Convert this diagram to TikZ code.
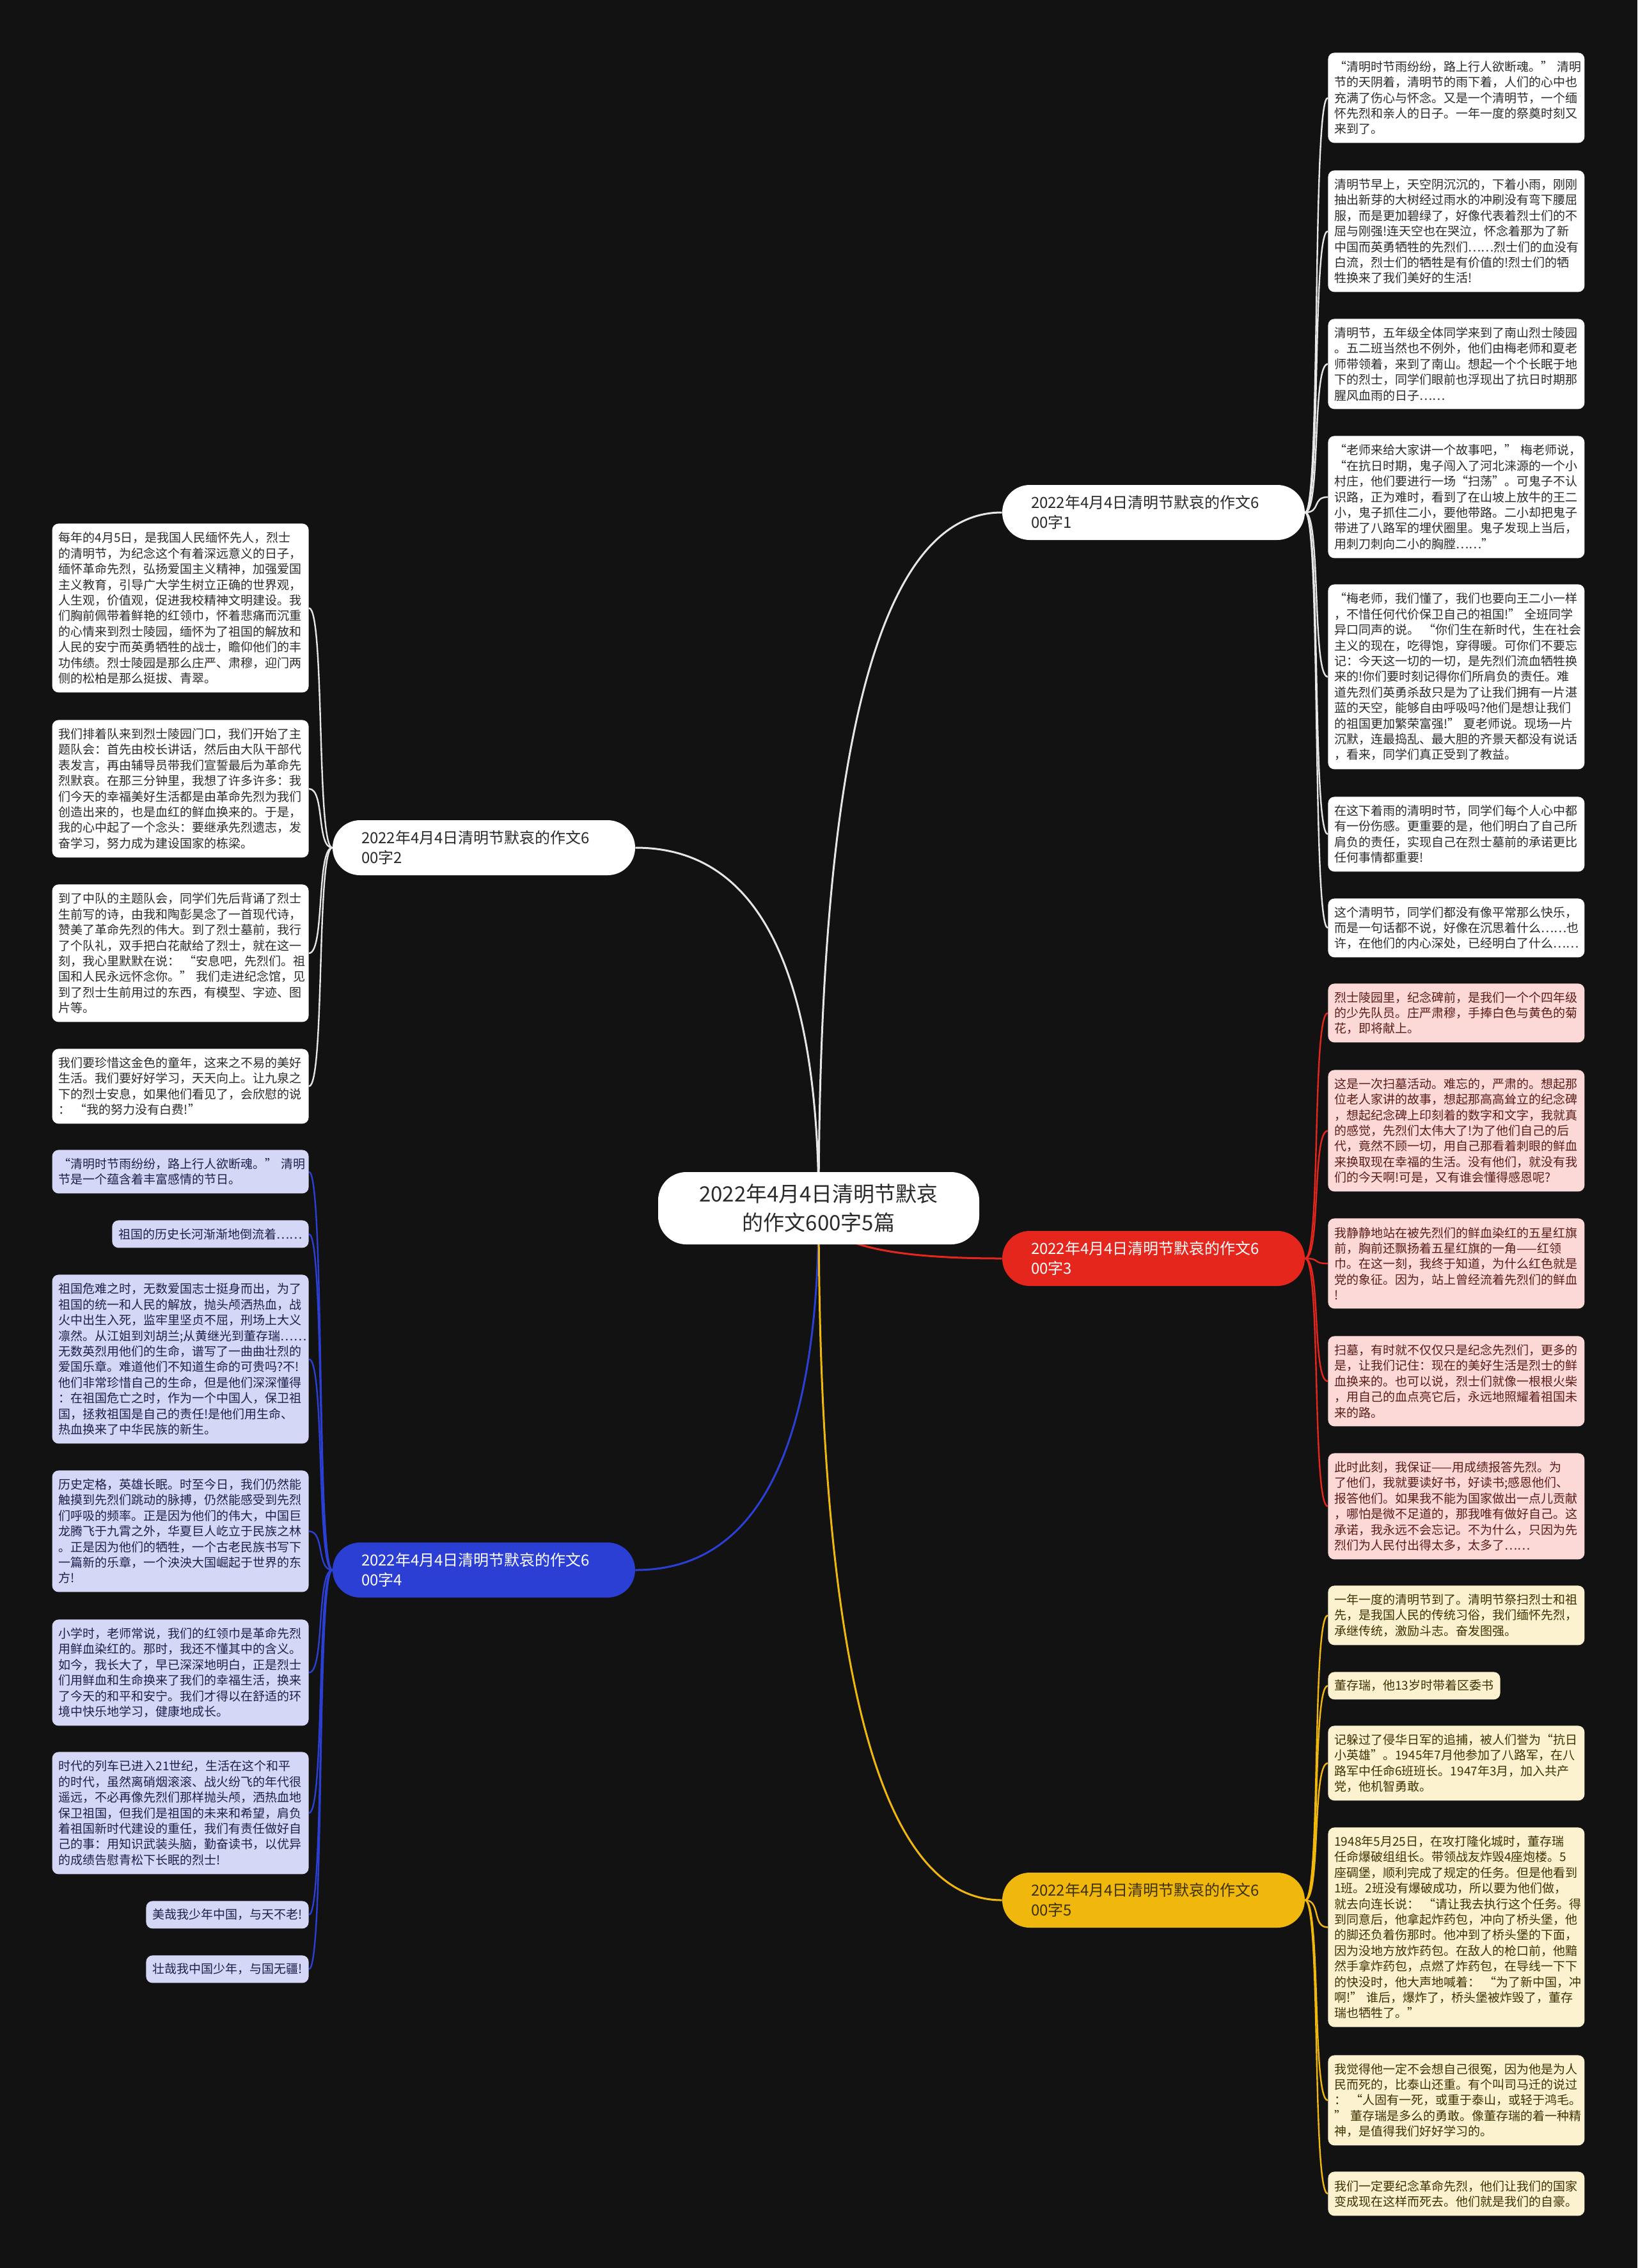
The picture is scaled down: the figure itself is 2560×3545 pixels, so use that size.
\documentclass[tikz,border=0pt]{standalone}
\usepackage{fontspec}
\setmainfont{Noto Sans CJK SC}
\usetikzlibrary{backgrounds}
\pgfdeclarelayer{bgl}
\pgfdeclarelayer{conn}
\pgfsetlayers{bgl,conn,main}
\definecolor{bgc}{HTML}{121212}
\definecolor{redB}{HTML}{E5261D}
\definecolor{blueB}{HTML}{2B3FD5}
\definecolor{yelB}{HTML}{F0B70C}
\definecolor{lineW}{HTML}{E6E6E6}
\definecolor{pinkL}{HTML}{FCD8D6}
\definecolor{lavL}{HTML}{D5D7F7}
\definecolor{creamL}{HTML}{FDF2D0}
\definecolor{txtW}{HTML}{2A2A2A}
\definecolor{txtR}{HTML}{5A1D18}
\definecolor{txtB}{HTML}{1D1F4A}
\definecolor{txtY}{HTML}{3D3100}
\begin{document}
\begin{tikzpicture}[x=0.5pt,y=-0.5pt,
  leafbase/.style={rounded corners=5pt, inner xsep=5pt, inner ysep=0pt, align=left,
    font=\fontsize{9.5pt}{12.2pt}\selectfont},
  leafR/.style={leafbase, anchor=north west, text width=190.5pt},
  leafL/.style={leafbase, anchor=north east, text width=190.5pt},
  shortR/.style={leafbase, anchor=north west, minimum height=21.5pt},
  shortL/.style={leafbase, anchor=north east, minimum height=21.5pt},
  cW/.style={fill=white, text=txtW},
  cR/.style={fill=pinkL, text=txtR},
  cB/.style={fill=lavL, text=txtB},
  cY/.style={fill=creamL, text=txtY},
  branchnode/.style={rounded corners=21.5pt, minimum width=236.5pt, minimum height=43pt,
    text width=191.5pt, inner xsep=22.5pt, inner ysep=0pt, align=left,
    font=\fontsize{12pt}{15.5pt}\selectfont},
  rootnode/.style={fill=white, text=txtW, rounded corners=22pt, minimum width=251pt,
    minimum height=56.5pt, align=center, font=\fontsize{16.5pt}{22.5pt}\selectfont},
  mainline/.style={line width=1.5pt},
  leafline/.style={line width=1.2pt}
]
\begin{pgfonlayer}{bgl}
\fill[bgc] (0,0) rectangle (2560,3545);
\end{pgfonlayer}
\useasboundingbox (0,0) rectangle (2560,3545);

% root and branches
\node[rootnode] (root) at (1280,1888.5) {2022年4月4日清明节默哀\\的作文600字5篇};
\node[branchnode, fill=white, text=txtW] (b1) at (1803.5,801) {2022年4月4日清明节默哀的作文6\\00字1};
\node[branchnode, fill=white, text=txtW] (b2) at (756.5,1325) {2022年4月4日清明节默哀的作文6\\00字2};
\node[branchnode, fill=redB, text=white] (b3) at (1803.5,1967) {2022年4月4日清明节默哀的作文6\\00字3};
\node[branchnode, fill=blueB, text=white] (b4) at (756.5,2454) {2022年4月4日清明节默哀的作文6\\00字4};
\node[branchnode, fill=yelB, text=txtY] (b5) at (1803.5,2970) {2022年4月4日清明节默哀的作文6\\00字5};

% branch 1 leaves
\node[leafR, cW, minimum height=70.5pt] (l1a) at (2076,82) {“清明时节雨纷纷，路上行人欲断魂。”~清明\\节的天阴着，清明节的雨下着，人们的心中也\\充满了伤心与怀念。又是一个清明节，一个缅\\怀先烈和亲人的日子。一年一度的祭奠时刻又\\来到了。};
\node[leafR, cW, minimum height=95pt] (l1b) at (2076,266) {清明节早上，天空阴沉沉的，下着小雨，刚刚\\抽出新芽的大树经过雨水的冲刷没有弯下腰屈\\服，而是更加碧绿了，好像代表着烈士们的不\\屈与刚强!连天空也在哭泣，怀念着那为了新\\中国而英勇牺牲的先烈们……烈士们的血没有\\白流，烈士们的牺牲是有价值的!烈士们的牺\\牲换来了我们美好的生活!};
\node[leafR, cW, minimum height=70.5pt] (l1c) at (2076,498) {清明节，五年级全体同学来到了南山烈士陵园\\。五二班当然也不例外，他们由梅老师和夏老\\师带领着，来到了南山。想起一个个长眠于地\\下的烈士，同学们眼前也浮现出了抗日时期那\\腥风血雨的日子……};
\node[leafR, cW, minimum height=95.5pt] (l1d) at (2076,681) {“老师来给大家讲一个故事吧，”~梅老师说，\\“在抗日时期，鬼子闯入了河北涞源的一个小\\村庄，他们要进行一场“扫荡”。可鬼子不认\\识路，正为难时，看到了在山坡上放牛的王二\\小，鬼子抓住二小，要他带路。二小却把鬼子\\带进了八路军的埋伏圈里。鬼子发现上当后，\\用刺刀刺向二小的胸膛……”};
\node[leafR, cW, minimum height=144.5pt] (l1e) at (2076,913) {“梅老师，我们懂了，我们也要向王二小一样\\，不惜任何代价保卫自己的祖国!”~全班同学\\异口同声的说。~“你们生在新时代，生在社会\\主义的现在，吃得饱，穿得暖。可你们不要忘\\记：今天这一切的一切，是先烈们流血牺牲换\\来的!你们要时刻记得你们所肩负的责任。难\\道先烈们英勇杀敌只是为了让我们拥有一片湛\\蓝的天空，能够自由呼吸吗?他们是想让我们\\的祖国更加繁荣富强!”~夏老师说。现场一片\\沉默，连最捣乱、最大胆的齐景天都没有说话\\，看来，同学们真正受到了教益。};
\node[leafR, cW, minimum height=58.5pt] (l1f) at (2076,1245) {在这下着雨的清明时节，同学们每个人心中都\\有一份伤感。更重要的是，他们明白了自己所\\肩负的责任，实现自己在烈士墓前的承诺更比\\任何事情都重要!};
\node[leafR, cW, minimum height=46pt] (l1g) at (2076,1404) {这个清明节，同学们都没有像平常那么快乐，\\而是一句话都不说，好像在沉思着什么……也\\许，在他们的内心深处，已经明白了什么……};

% branch 3 leaves
\node[leafR, cR, minimum height=46pt] (l3a) at (2076,1537) {烈士陵园里，纪念碑前，是我们一个个四年级\\的少先队员。庄严肃穆，手捧白色与黄色的菊\\花，即将献上。};
\node[leafR, cR, minimum height=95pt] (l3b) at (2076,1672) {这是一次扫墓活动。难忘的，严肃的。想起那\\位老人家讲的故事，想起那高高耸立的纪念碑\\，想起纪念碑上印刻着的数字和文字，我就真\\的感觉，先烈们太伟大了!为了他们自己的后\\代，竟然不顾一切，用自己那看着刺眼的鲜血\\来换取现在幸福的生活。没有他们，就没有我\\们的今天啊!可是，又有谁会懂得感恩呢?};
\node[leafR, cR, minimum height=70.5pt] (l3c) at (2076,1904) {我静静地站在被先烈们的鲜血染红的五星红旗\\前，胸前还飘扬着五星红旗的一角——红领\\巾。在这一刻，我终于知道，为什么红色就是\\党的象征。因为，站上曾经流着先烈们的鲜血\\!};
\node[leafR, cR, minimum height=70.5pt] (l3d) at (2076,2088) {扫墓，有时就不仅仅只是纪念先烈们，更多的\\是，让我们记住：现在的美好生活是烈士的鲜\\血换来的。也可以说，烈士们就像一根根火柴\\，用自己的血点亮它后，永远地照耀着祖国未\\来的路。};
\node[leafR, cR, minimum height=83pt] (l3e) at (2076,2271) {此时此刻，我保证——用成绩报答先烈。为\\了他们，我就要读好书，好读书;感恩他们、\\报答他们。如果我不能为国家做出一点儿贡献\\，哪怕是微不足道的，那我唯有做好自己。这\\承诺，我永远不会忘记。不为什么，只因为先\\烈们为人民付出得太多，太多了……};

% branch 5 leaves
\node[leafR, cY, minimum height=46.5pt] (l5a) at (2076,2478) {一年一度的清明节到了。清明节祭扫烈士和祖\\先，是我国人民的传统习俗，我们缅怀先烈，\\承继传统，激励斗志。奋发图强。};
\node[shortR, cY] (l5b) at (2076,2613) {董存瑞，他13岁时带着区委书};
\node[leafR, cY, minimum height=58.5pt] (l5c) at (2076,2697) {记躲过了侵华日军的追捕，被人们誉为“抗日\\小英雄”。1945年7月他参加了八路军，在八\\路军中任命6班班长。1947年3月，加入共产\\党，他机智勇敢。};
\node[leafR, cY, minimum height=156pt] (l5d) at (2076,2856) {1948年5月25日，在攻打隆化城时，董存瑞\\任命爆破组组长。带领战友炸毁4座炮楼。5\\座碉堡，顺利完成了规定的任务。但是他看到\\1班。2班没有爆破成功，所以要为他们做，\\就去向连长说：~“请让我去执行这个任务。得\\到同意后，他拿起炸药包，冲向了桥头堡，他\\的脚还负着伤那时。他冲到了桥头堡的下面，\\因为没地方放炸药包。在敌人的枪口前，他黯\\然手拿炸药包，点燃了炸药包，在导线一下下\\的快没时，他大声地喊着：~“为了新中国，冲\\啊!”~谁后，爆炸了，桥头堡被炸毁了，董存\\瑞也牺牲了。”};
\node[leafR, cY, minimum height=70.5pt] (l5e) at (2076,3212) {我觉得他一定不会想自己很冤，因为他是为人\\民而死的，比泰山还重。有个叫司马迁的说过\\：~“人固有一死，或重于泰山，或轻于鸿毛。\\”~董存瑞是多么的勇敢。像董存瑞的着一种精\\神，是值得我们好好学习的。};
\node[leafR, cY, minimum height=34.5pt] (l5f) at (2076,3394) {我们一定要纪念革命先烈，他们让我们的国家\\变成现在这样而死去。他们就是我们的自豪。};

% branch 2 leaves
\node[leafL, cW, minimum height=132pt] (l2a) at (483,818) {每年的4月5日，是我国人民缅怀先人，烈士\\的清明节，为纪念这个有着深远意义的日子，\\缅怀革命先烈，弘扬爱国主义精神，加强爱国\\主义教育，引导广大学生树立正确的世界观，\\人生观，价值观，促进我校精神文明建设。我\\们胸前佩带着鲜艳的红领巾，怀着悲痛而沉重\\的心情来到烈士陵园，缅怀为了祖国的解放和\\人民的安宁而英勇牺牲的战士，瞻仰他们的丰\\功伟绩。烈士陵园是那么庄严、肃穆，迎门两\\侧的松柏是那么挺拔、青翠。};
\node[leafL, cW, minimum height=107.5pt] (l2b) at (483,1125) {我们排着队来到烈士陵园门口，我们开始了主\\题队会：首先由校长讲话，然后由大队干部代\\表发言，再由辅导员带我们宣誓最后为革命先\\烈默哀。在那三分钟里，我想了许多许多：我\\们今天的幸福美好生活都是由革命先烈为我们\\创造出来的，也是血红的鲜血换来的。于是，\\我的心中起了一个念头：要继承先烈遗志，发\\奋学习，努力成为建设国家的栋梁。};
\node[leafL, cW, minimum height=107.5pt] (l2c) at (483,1382) {到了中队的主题队会，同学们先后背诵了烈士\\生前写的诗，由我和陶彭昊念了一首现代诗，\\赞美了革命先烈的伟大。到了烈士墓前，我行\\了个队礼，双手把白花献给了烈士，就在这一\\刻，我心里默默在说：~“安息吧，先烈们。祖\\国和人民永远怀念你。”~我们走进纪念馆，见\\到了烈士生前用过的东西，有模型、字迹、图\\片等。};
\node[leafL, cW, minimum height=58.5pt] (l2d) at (483,1639) {我们要珍惜这金色的童年，这来之不易的美好\\生活。我们要好好学习，天天向上。让九泉之\\下的烈士安息，如果他们看见了，会欣慰的说\\：~“我的努力没有白费!”};

% branch 4 leaves
\node[leafL, cB, minimum height=34pt] (l4a) at (483,1797) {“清明时节雨纷纷，路上行人欲断魂。”~清明\\节是一个蕴含着丰富感情的节日。};
\node[shortL, cB] (l4b) at (483,1907) {祖国的历史长河渐渐地倒流着……};
\node[leafL, cB, minimum height=132pt] (l4c) at (483,1992) {祖国危难之时，无数爱国志士挺身而出，为了\\祖国的统一和人民的解放，抛头颅洒热血，战\\火中出生入死，监牢里坚贞不屈，刑场上大义\\凛然。从江姐到刘胡兰;从黄继光到董存瑞……\\无数英烈用他们的生命，谱写了一曲曲壮烈的\\爱国乐章。难道他们不知道生命的可贵吗?不!\\他们非常珍惜自己的生命，但是他们深深懂得\\：在祖国危亡之时，作为一个中国人，保卫祖\\国，拯救祖国是自己的责任!是他们用生命、\\热血换来了中华民族的新生。};
\node[leafL, cB, minimum height=95pt] (l4d) at (483,2298) {历史定格，英雄长眠。时至今日，我们仍然能\\触摸到先烈们跳动的脉搏，仍然能感受到先烈\\们呼吸的频率。正是因为他们的伟大，中国巨\\龙腾飞于九霄之外，华夏巨人屹立于民族之林\\。正是因为他们的牺牲，一个古老民族书写下\\一篇新的乐章，一个泱泱大国崛起于世界的东\\方!};
\node[leafL, cB, minimum height=83pt] (l4e) at (483,2531) {小学时，老师常说，我们的红领巾是革命先烈\\用鲜血染红的。那时，我还不懂其中的含义。\\如今，我长大了，早已深深地明白，正是烈士\\们用鲜血和生命换来了我们的幸福生活，换来\\了今天的和平和安宁。我们才得以在舒适的环\\境中快乐地学习，健康地成长。};
\node[leafL, cB, minimum height=95.5pt] (l4f) at (483,2738) {时代的列车已进入21世纪，生活在这个和平\\的时代，虽然离硝烟滚滚、战火纷飞的年代很\\遥远，不必再像先烈们那样抛头颅，洒热血地\\保卫祖国，但我们是祖国的未来和希望，肩负\\着祖国新时代建设的重任，我们有责任做好自\\己的事：用知识武装头脑，勤奋读书，以优异\\的成绩告慰青松下长眠的烈士!};
\node[shortL, cB] (l4g) at (483,2971) {美哉我少年中国，与天不老!};
\node[shortL, cB] (l4h) at (483,3056) {壮哉我中国少年，与国无疆!};

\begin{pgfonlayer}{conn}
% root to branches
\draw[mainline, lineW] (root.center) .. controls +(0,-924) and +(-130,0) .. (b1.west);
\draw[mainline, lineW] (root.center) .. controls +(0,-479) and +(130,0) .. (b2.east);
\draw[mainline, redB] (root.center) .. controls +(0,67) and +(-130,0) .. (b3.west);
\draw[mainline, blueB] (root.center) .. controls +(0,481) and +(130,0) .. (b4.east);
\draw[mainline, yelB] (root.center) .. controls +(0,920) and +(-130,0) .. (b5.west);
% branch 1
\foreach \n in {l1a,l1b,l1c,l1d,l1e,l1f,l1g}
  \draw[leafline, lineW] (b1.east) .. controls +(25,0) and +(-25,0) .. (\n.west);
\foreach \n in {l3a,l3b,l3c,l3d,l3e}
  \draw[leafline, redB] (b3.east) .. controls +(25,0) and +(-25,0) .. (\n.west);
\foreach \n in {l5a,l5b,l5c,l5d,l5e,l5f}
  \draw[leafline, yelB] (b5.east) .. controls +(25,0) and +(-25,0) .. (\n.west);
\foreach \n in {l2a,l2b,l2c,l2d}
  \draw[leafline, lineW] (b2.west) .. controls +(-25,0) and +(25,0) .. (\n.east);
\foreach \n in {l4a,l4b,l4c,l4d,l4e,l4f,l4g,l4h}
  \draw[leafline, blueB] (b4.west) .. controls +(-25,0) and +(25,0) .. (\n.east);
\end{pgfonlayer}
\end{tikzpicture}
\end{document}
